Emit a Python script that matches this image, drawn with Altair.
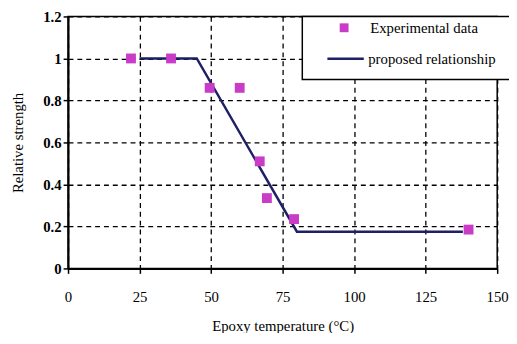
import altair as alt
import pandas as pd

# Experimental data
exp_x = [22, 36, 49.5, 60, 67, 69.5, 79, 140]
exp_y = [1.0, 1.0, 0.86, 0.86, 0.51, 0.335, 0.235, 0.185]

# Proposed relationship
line_x = [25, 45, 80, 138]
line_y = [1.0, 1.0, 0.175, 0.175]

x_ticks = [0, 25, 50, 75, 100, 125, 150]
y_ticks = [0, 0.2, 0.4, 0.6, 0.8, 1.0, 1.2]

SERIES = ["Experimental data", "proposed relationship"]
FONT = "Liberation Serif, Times New Roman, serif"

exp_df = pd.DataFrame({"x": exp_x, "y": exp_y, "series": SERIES[0]})
line_df = pd.DataFrame({"x": line_x, "y": line_y, "series": SERIES[1]})

x_enc = alt.X("x:Q", scale=alt.Scale(domain=[0, 150], nice=False),
              axis=alt.Axis(values=x_ticks, title="Epoxy temperature (°C)", labelFlush=False))
y_enc = alt.Y("y:Q", scale=alt.Scale(domain=[0, 1.2], nice=False),
              axis=alt.Axis(values=y_ticks, title="Relative strength", labelFlush=False,
                            labelExpr="datum.value == 0 ? '0' : datum.value == 1 ? '1' : format(datum.value, '.1f')"))

box = alt.Chart(pd.DataFrame({"a": [0]})).mark_rect(
    fill="white", stroke="black", strokeWidth=1.5, clip=False
).encode(x=alt.value(238), x2=alt.value(470), y=alt.value(0), y2=alt.value(64))

points = alt.Chart(exp_df).mark_square(size=100, opacity=1).encode(
    x=x_enc, y=y_enc,
    fill=alt.Fill("series:N",
                  scale=alt.Scale(domain=[SERIES[0]], range=["#c83cc8"]),
                  legend=alt.Legend(orient="none", legendX=273, legendY=4, title=None,
                                    symbolType="square", symbolSize=81, symbolStrokeWidth=0,
                                    labelFont=FONT, labelFontSize=15, labelColor="black",
                                    labelOffset=19, padding=0)),
)

line = alt.Chart(line_df).mark_line(strokeWidth=2.5).encode(
    x=x_enc, y=y_enc,
    stroke=alt.Stroke("series:N",
                      scale=alt.Scale(domain=[SERIES[1]], range=["#1f1f66"]),
                      legend=alt.Legend(orient="none", legendX=262, legendY=23, title=None,
                                        symbolType="stroke", symbolSize=1369, symbolStrokeWidth=2.5,
                                        labelFont=FONT, labelFontSize=15, labelColor="black",
                                        labelOffset=3, padding=0)),
)

chart = alt.layer(box, line, points).resolve_legend(fill="independent", stroke="independent").properties(
    width=436, height=256,
    autosize=alt.AutoSizeParams(type="none"),
    padding={"left": 61, "top": 6, "right": 12, "bottom": 63},
).configure(
    font=FONT
).configure_view(
    stroke="black", strokeWidth=1.5
).configure_axis(
    grid=True, gridColor="black", gridDash=[5, 4], gridWidth=1.3, gridOpacity=1,
    domainColor="black", domainWidth=2, tickColor="black", tickSize=5, tickWidth=1.5,
    labelFont=FONT, labelFontSize=15, labelColor="black",
    titleFont=FONT, titleFontSize=15, titleFontWeight="normal", titleColor="black",
).configure_axisY(
    labelFontWeight="bold", labelPadding=2, titlePadding=18
).configure_axisX(
    labelPadding=17, titlePadding=14
)

chart.save("out.html", embed_options={"renderer": "svg", "actions": False})
